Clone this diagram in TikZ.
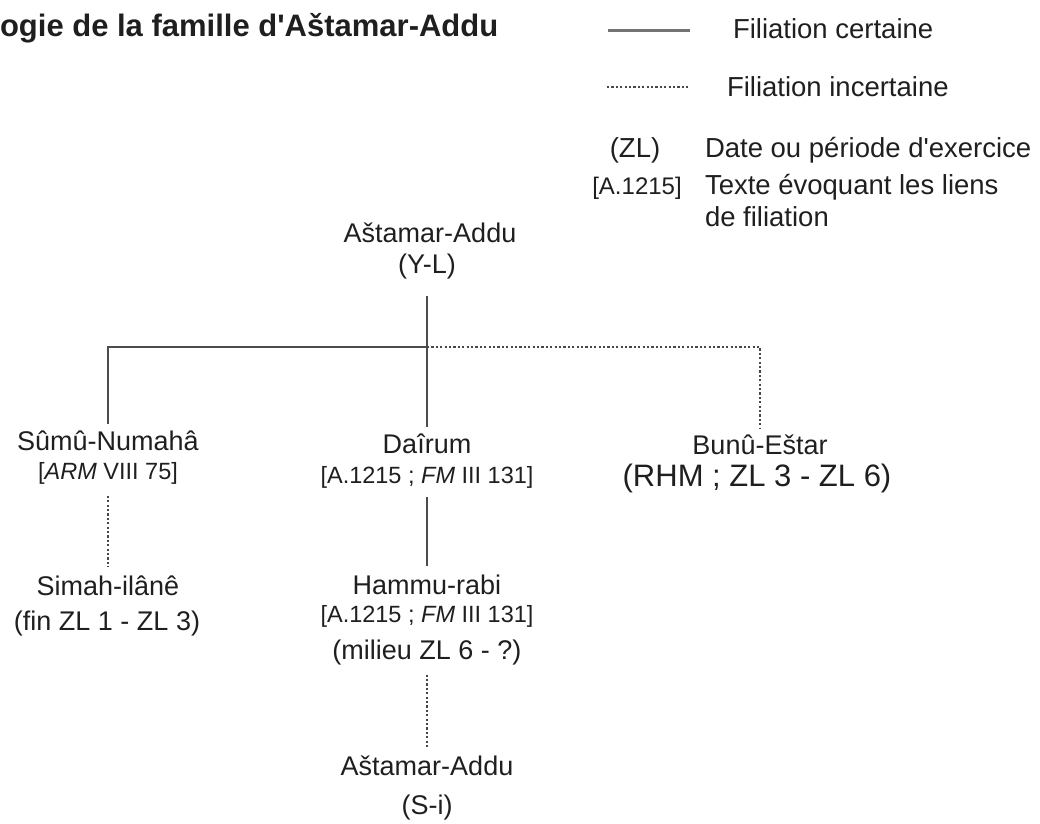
\documentclass[tikz,border=0pt]{standalone}
\usepackage{fontspec}
\setmainfont{Liberation Sans}[Ligatures=TeXOff]
\begin{document}
\begin{tikzpicture}[x=1pt,y=-1pt,
  every node/.style={inner sep=0pt, outer sep=0pt, text=black!88},
  pname/.style={anchor=base, font=\fontsize{27}{31}\selectfont},
  refs/.style={anchor=base, font=\fontsize{23.5}{27}\selectfont},
  leg/.style={anchor=base west, font=\fontsize{27.5}{31}\selectfont},
  sure/.style={draw=black!70, line width=2.2pt},
  legsure/.style={draw=black!55, line width=3pt},
  unsure/.style={draw=black!72, line width=2.2pt, dash pattern=on 2.2pt off 2.2pt}]
\useasboundingbox (0,0) rectangle (1040,823);
% title
\node[anchor=base west, font=\fontsize{31}{35}\selectfont\bfseries] (title) at (0,36) {ogie de la famille d'Aštamar-Addu};
% legend
\coordinate (ls1) at (608,30); \coordinate (ls2) at (690,30);
\draw[legsure] (ls1) -- (ls2);
\node[leg] (lc) at (733,38) {Filiation certaine};
\coordinate (lu1) at (607,87); \coordinate (lu2) at (688,87);
\draw[unsure] (lu1) -- (lu2);
\node[leg] (li) at (727,96) {Filiation incertaine};
\node[anchor=base, font=\fontsize{27.5}{31}\selectfont] (zl) at (635,157) {(ZL)};
\node[leg] (zlt) at (705,157) {Date ou période d'exercice};
\node[anchor=base, font=\fontsize{24}{28}\selectfont] (ak) at (637,194) {[A.1215]};
\node[leg] (akt1) at (705,194) {Texte évoquant les liens};
\node[leg] (akt2) at (705,226) {de filiation};
% tree
\node[pname] (a1) at (430,242) {Aštamar-Addu};
\node[pname] (a1d) at (427,273) {(Y-L)};
\coordinate (J) at (427,347);
\node[pname] (sn) at (108,450) {Sûmû-Numahâ};
\node[refs] (snr) at (108,479) {[\textit{ARM} VIII 75]};
\node[pname] (si) at (108,595) {Simah-ilânê};
\node[pname] (sid) at (107,630) {(fin ZL 1 - ZL 3)};
\node[pname] (da) at (427,453) {Daîrum};
\node[refs] (dar) at (427,483) {[A.1215 ; \textit{FM} III 131]};
\node[pname] (hr) at (427,594) {Hammu-rabi};
\node[refs] (hrr) at (427,622) {[A.1215 ; \textit{FM} III 131]};
\node[pname] (hrd) at (427,659) {(milieu ZL 6 - ?)};
\node[pname] (a2) at (427,775) {Aštamar-Addu};
\node[pname] (a2d) at (427,814) {(S-i)};
\node[pname] (be) at (760,454) {Bunû-Eštar};
\node[anchor=base, font=\fontsize{31}{35}\selectfont] (bed) at (757,486) {(RHM ; ZL 3 - ZL 6)};
% connectors
\draw[sure] ([yshift=-17pt]a1d.south) -- ([yshift=6pt]da.north);
\draw[sure] (J) -| ([yshift=6pt]sn.north);
\draw[unsure] (J) -| ([yshift=6pt]be.north);
\draw[unsure] ([yshift=-12pt]snr.south) -- ([yshift=8pt]snr.south |- si.north);
\draw[sure] ([yshift=-9pt]dar.south) -- ([yshift=8pt]dar.south |- hr.north);
\draw[unsure] ([yshift=-10pt]hrd.south) -- ([yshift=8pt]hrd.south |- a2.north);
\end{tikzpicture}
\end{document}
